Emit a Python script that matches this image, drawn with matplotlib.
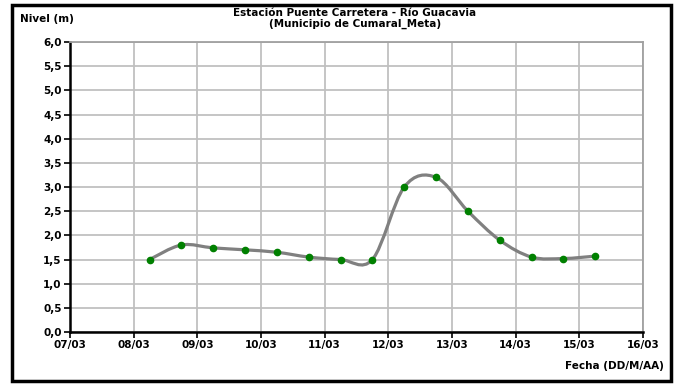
"""
Nivel del río Guacavia, estación Puente Carretera (Cumaral, Meta).
"""
import numpy as np
import matplotlib.pyplot as plt
from matplotlib.path import Path
from matplotlib.patches import PathPatch, Rectangle

# días contados desde el 07/03
dias = [1.25, 1.75, 2.25, 2.75, 3.25, 3.75, 4.25, 4.75,
        5.25, 5.75, 6.25, 6.75, 7.25, 7.75, 8.25]
nivel = [1.50, 1.80, 1.74, 1.70, 1.65, 1.55, 1.50, 1.50,
         3.00, 3.20, 2.50, 1.90, 1.55, 1.52, 1.57]
fechas = ["07/03", "08/03", "09/03", "10/03", "11/03",
          "12/03", "13/03", "14/03", "15/03", "16/03"]
niveles_y = [0.0, 0.5, 1.0, 1.5, 2.0, 2.5, 3.0, 3.5, 4.0, 4.5, 5.0, 5.5, 6.0]

FONT = "DejaVu Sans"
FS = 7.5

fig = plt.figure(figsize=(6.77, 3.84), dpi=100)
ax = fig.add_axes([70 / 677, 1 - 332 / 384, 573 / 677, 290 / 384])

# marco exterior
fig.patches.append(Rectangle((12 / 677, 1 - 381 / 384), 659 / 677, 376 / 384,
                             transform=fig.transFigure, fill=False,
                             edgecolor="black", linewidth=2.5))

# línea suavizada (bezier estilo Excel)
p = np.column_stack([dias, nivel])
verts = [p[0]]
codes = [Path.MOVETO]
n = len(p)
for i in range(n - 1):
    p0 = p[i - 1] if i > 0 else p[i]
    p3 = p[i + 2] if i + 2 < n else p[i + 1]
    c1 = p[i] + (p[i + 1] - p0) / 6
    c2 = p[i + 1] - (p3 - p[i]) / 6
    verts += [c1, c2, p[i + 1]]
    codes += [Path.CURVE4] * 3
ax.add_patch(PathPatch(Path(verts, codes), fill=False, edgecolor="#808080",
                       linewidth=2.3, capstyle="round", zorder=3))
ax.plot(dias, nivel, "o", color="#008000", markersize=4.5, zorder=4)

ax.set_xlim(0, 9)
ax.set_ylim(0, 6)
ax.set_xticks(range(len(fechas)))
ax.set_xticklabels(fechas)
ax.set_yticks(niveles_y)
ax.set_yticklabels([f"{v:.1f}".replace(".", ",") for v in niveles_y])
ax.grid(True, color="#c0c0c0", linewidth=1.3)
ax.set_axisbelow(True)
for s in ["left", "bottom"]:
    ax.spines[s].set_linewidth(1.8)
    ax.spines[s].set_color("black")
for s in ["top", "right"]:
    ax.spines[s].set_linewidth(1.3)
    ax.spines[s].set_color("#a0a0a0")
ax.tick_params(direction="out", length=4, width=1.2, pad=2, labelsize=FS)
for lab in ax.get_xticklabels() + ax.get_yticklabels():
    lab.set_fontweight("bold")
    lab.set_family(FONT)

fig.text(355 / 677, 1 - 13 / 384, "Estación Puente Carretera - Río Guacavia",
         ha="center", va="center", fontsize=FS, fontweight="bold", family=FONT)
fig.text(355 / 677, 1 - 24 / 384, "(Municipio de Cumaral_Meta)",
         ha="center", va="center", fontsize=FS, fontweight="bold", family=FONT)
fig.text(20 / 677, 1 - 19 / 384, "Nivel (m)", ha="left", va="center",
         fontsize=FS, fontweight="bold", family=FONT)
fig.text(664 / 677, 1 - 366 / 384, "Fecha (DD/M/AA)", ha="right", va="center",
         fontsize=FS, fontweight="bold", family=FONT)

fig.savefig("out.png", dpi=100)
